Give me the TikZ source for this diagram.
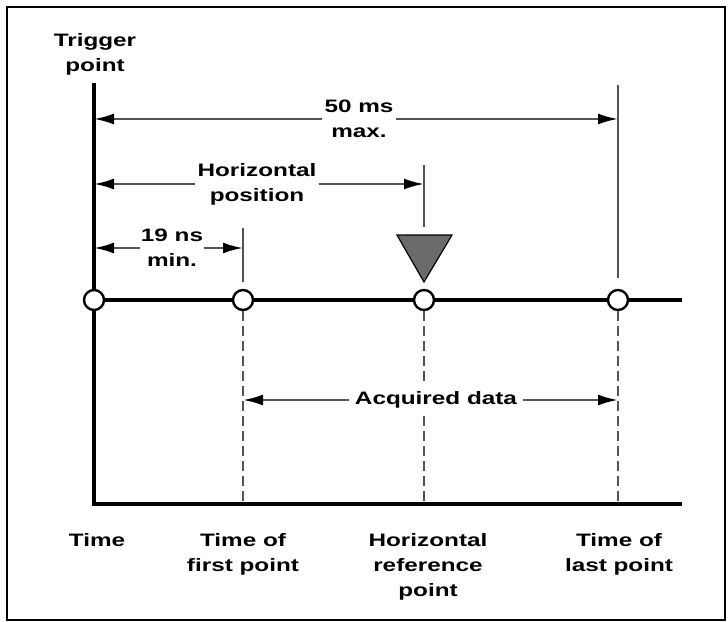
\documentclass[tikz,border=0pt]{standalone}
\usepackage{fontspec}
\setmainfont{Liberation Sans}[FakeStretch=1.35]
\usetikzlibrary{arrows.meta,calc}
\definecolor{GuideClr}{rgb}{0.33,0.33,0.33}
\definecolor{MarkerClr}{rgb}{0.42,0.42,0.42}

\begin{document}
\begin{tikzpicture}[x=1pt,y=-1pt,
  lbl/.style={font=\bfseries\fontsize{18}{25}\selectfont,align=center,inner sep=2pt},
  axisline/.style={line width=3.6pt,black,line join=miter},
  guide/.style={line width=2.3pt,GuideClr},
  dashguide/.style={guide,dash pattern=on 10pt off 5pt},
  dimarrow/.style={guide,-{Latex[length=20pt,width=11pt,color=black]}},
  sample/.style={circle,draw=black,line width=2.4pt,fill=white,minimum size=20pt,inner sep=0pt}]

\useasboundingbox (0,0) rectangle (728,621);
\draw[line width=2.2pt] (7,7) rectangle (725,620);

\coordinate (top) at (94,83);
\coordinate (origin) at (94,504);
\coordinate (axisend) at (682,504);
\coordinate (lineend) at (682,300);

\node[sample] (s0) at (94,300) {};
\node[sample] (s1) at (243,300) {};
\node[sample] (s2) at (424,300) {};
\node[sample] (s3) at (618,300) {};

% time axis and sample line
\draw[axisline] (top) -- (s0.north);
\draw[axisline] (s0.south) -- (origin) -- (axisend);
\draw[axisline] (s0) -- (s1) -- (s2) -- (s3) -- (lineend);

% markers above the line
\coordinate (m1) at (243,228);
\coordinate (m2) at (424,165);
\coordinate (m3) at (618,85);
\coordinate (tri) at (424,282);
\draw[guide] (m1) -- (243,282);
\draw[guide] (m2) -- (424,227);
\draw[guide] (m3) -- (618,278);
\draw[line width=1.2pt,fill=MarkerClr] (397,235) -- (452,235) -- (tri) -- cycle;

% dashed guides below the line
\draw[dashguide] (s1.south) -- (s1 |- origin);
\draw[dashguide] (s2.south) -- (s2 |- origin);
\draw[dashguide] (s3.south) -- (s3 |- origin);

% dimensions
\node[lbl] (max) at (359,119) {50 ms\\max.};
\draw[dimarrow] (max.west) -- (s0 |- max.west);
\draw[dimarrow] (max.east) -- (s3 |- max.east);

\node[lbl] (hpos) at (257,184) {Horizontal\\position};
\draw[dimarrow] (hpos.west) -- (s0 |- hpos.west);
\draw[dimarrow] (hpos.east) -- (s2 |- hpos.east);

\node[lbl,inner sep=1pt] (min) at (172,248) {19 ns\\min.};
\draw[dimarrow] (min.west) -- (s0 |- min.west);
\draw[dimarrow] (min.east) -- (s1 |- min.east);

\node[lbl,fill=white,inner sep=6pt] (acq) at (436,400) {Acquired data};
\draw[dimarrow] (acq.west) -- (s1 |- acq.west);
\draw[dimarrow] (acq.east) -- (s3 |- acq.east);

% labels
\node[lbl,anchor=north] (trig) at (95,31) {Trigger\\point};
\node[lbl,anchor=north] (time) at (97,531) {Time};
\node[lbl,anchor=north] (first) at (243,531) {Time of\\first point};
\node[lbl,anchor=north] (href) at (428,531) {Horizontal\\reference\\point};
\node[lbl,anchor=north] (last) at (619,531) {Time of\\last point};

\end{tikzpicture}
\end{document}
